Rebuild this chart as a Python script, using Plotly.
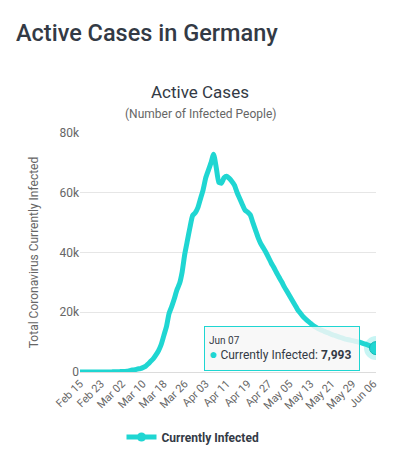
import datetime as dt
import plotly.graph_objects as go

# ---- data ----
start_date = dt.date(2020, 2, 15)
active_cases = [
    14, 14, 14, 14, 14, 14, 14, 14, 14, 14,
    16, 25, 40, 50, 62, 113, 143, 180, 246, 466,
    653, 781, 1000, 1148, 1471, 1863, 2698, 3603, 4483, 5710,
    7186, 9201, 12181, 15163, 19600, 21900, 24500, 27500, 29600, 33500,
    39500, 44000, 48500, 52400, 53300, 55000, 58000, 61000, 65000, 67500,
    70000, 72900, 68500, 63500, 63200, 65000, 65500, 64800, 63800, 62500,
    60000, 58000, 56000, 54200, 53500, 52600, 50000, 47500, 45000, 43000,
    41500, 40000, 38300, 36500, 35000, 33300, 31700, 30200, 28500, 27000,
    25500, 24000, 22500, 21000, 19800, 18700, 17800, 17000, 16300, 15600,
    15000, 14500, 14100, 13700, 13300, 13000, 12600, 12300, 12000, 11700,
    11400, 11100, 10900, 10700, 10500, 10300, 10100, 9900, 9600, 9300,
    9000, 8700, 8300, 7993,
]
dates = [start_date + dt.timedelta(days=i) for i in range(len(active_cases))]
x_tick_dates = dates[::8]
y_tick_values = [0, 20000, 40000, 60000, 80000]
y_tick_labels = ["0", "20k", "40k", "60k", "80k"]
series_name = "Currently Infected"

CYAN = "#1fd6d2"
GRAY = "#666666"
DARK = "#333a45"
FONT = "Roboto"

fig = go.Figure()
fig.add_trace(go.Scatter(
    x=dates, y=active_cases, mode="lines", name=series_name, showlegend=False,
    line=dict(color=CYAN, width=5, shape="spline", smoothing=0.5),
    hoverinfo="skip",
))
# legend entry (thick line with a round marker)
fig.add_trace(go.Scatter(
    x=[None], y=[None], mode="lines+markers", name=series_name,
    line=dict(color=CYAN, width=5), marker=dict(size=9, color=CYAN),
))
# highlighted last point (halo + marker)
fig.add_trace(go.Scatter(
    x=[dates[-1]], y=[active_cases[-1]], mode="markers", showlegend=False,
    marker=dict(size=24, color="rgba(31,214,210,0.25)"), hoverinfo="skip",
))
fig.add_trace(go.Scatter(
    x=[dates[-1]], y=[active_cases[-1]], mode="markers", showlegend=False,
    marker=dict(size=13, color=CYAN, line=dict(color="#16b7b4", width=1)),
    hoverinfo="skip",
))

plot_top, plot_bottom, plot_left, plot_right = 133, 372, 80, 376


def py(ypix):
    return (plot_bottom - ypix) / (plot_bottom - plot_top)


def px(xpix):
    return (xpix - plot_left) / (plot_right - plot_left)


last_label = dates[-1].strftime("%b %d")
tooltip_text = (
    f"<span style='font-size:10px'>{last_label}</span><br>"
    f"<span style='color:{CYAN};font-size:14px'>●</span> "
    f"{series_name}: <b>{active_cases[-1]:,}</b>"
)

fig.update_layout(
    width=400, height=469,
    margin=dict(l=plot_left, r=400 - plot_right, t=plot_top, b=469 - plot_bottom),
    paper_bgcolor="white", plot_bgcolor="white",
    font=dict(family=FONT, color=GRAY, size=12),
    title=dict(
        text="Active Cases in Germany", xref="container", yref="container",
        x=16 / 400, xanchor="left", y=1 - 33 / 469, yanchor="middle",
        font=dict(family=FONT, size=23.5, color=DARK, weight=500),
    ),
    showlegend=True,
    legend=dict(
        orientation="h", x=px(193), xanchor="center", y=py(437), yanchor="middle",
        font=dict(family=FONT, size=12, color=DARK, weight="bold"),
    ),
    xaxis=dict(
        type="date",
        range=[dates[0], dates[-1] + dt.timedelta(hours=20)],
        tickvals=x_tick_dates, tickformat="%b %d", tickangle=-45,
        tickfont=dict(size=11, color=GRAY),
        showgrid=False, showline=True, linecolor="#dcdcdc", linewidth=1,
        ticks="", zeroline=False,
    ),
    yaxis=dict(
        range=[0, 80000], tickvals=y_tick_values, ticktext=y_tick_labels,
        tickfont=dict(size=12, color=GRAY),
        gridcolor="#e6e6e6", gridwidth=1, zeroline=False, showline=False,
        title=dict(text="Total Coronavirus Currently Infected",
                   font=dict(size=12, color=GRAY), standoff=18),
    ),
    annotations=[
        dict(text="Active Cases", xref="paper", yref="paper", x=px(200), y=py(92),
             xanchor="center", yanchor="middle", showarrow=False,
             font=dict(family=FONT, size=17, color=DARK)),
        dict(text="(Number of Infected People)", xref="paper", yref="paper",
             x=px(200), y=py(114), xanchor="center", yanchor="middle",
             showarrow=False, font=dict(family=FONT, size=12, color=GRAY)),
        dict(text=tooltip_text, xref="paper", yref="paper",
             x=px(204), y=py(348), xanchor="left", yanchor="middle",
             showarrow=False, align="left", width=146, height=35,
             bgcolor="rgba(247,247,247,0.85)", bordercolor=CYAN, borderwidth=1,
             borderpad=4, font=dict(family=FONT, size=12, color=DARK)),
    ],
)

fig.write_html("out.html", config={"displayModeBar": False},
               post_script="document.body.style.margin='0';")
